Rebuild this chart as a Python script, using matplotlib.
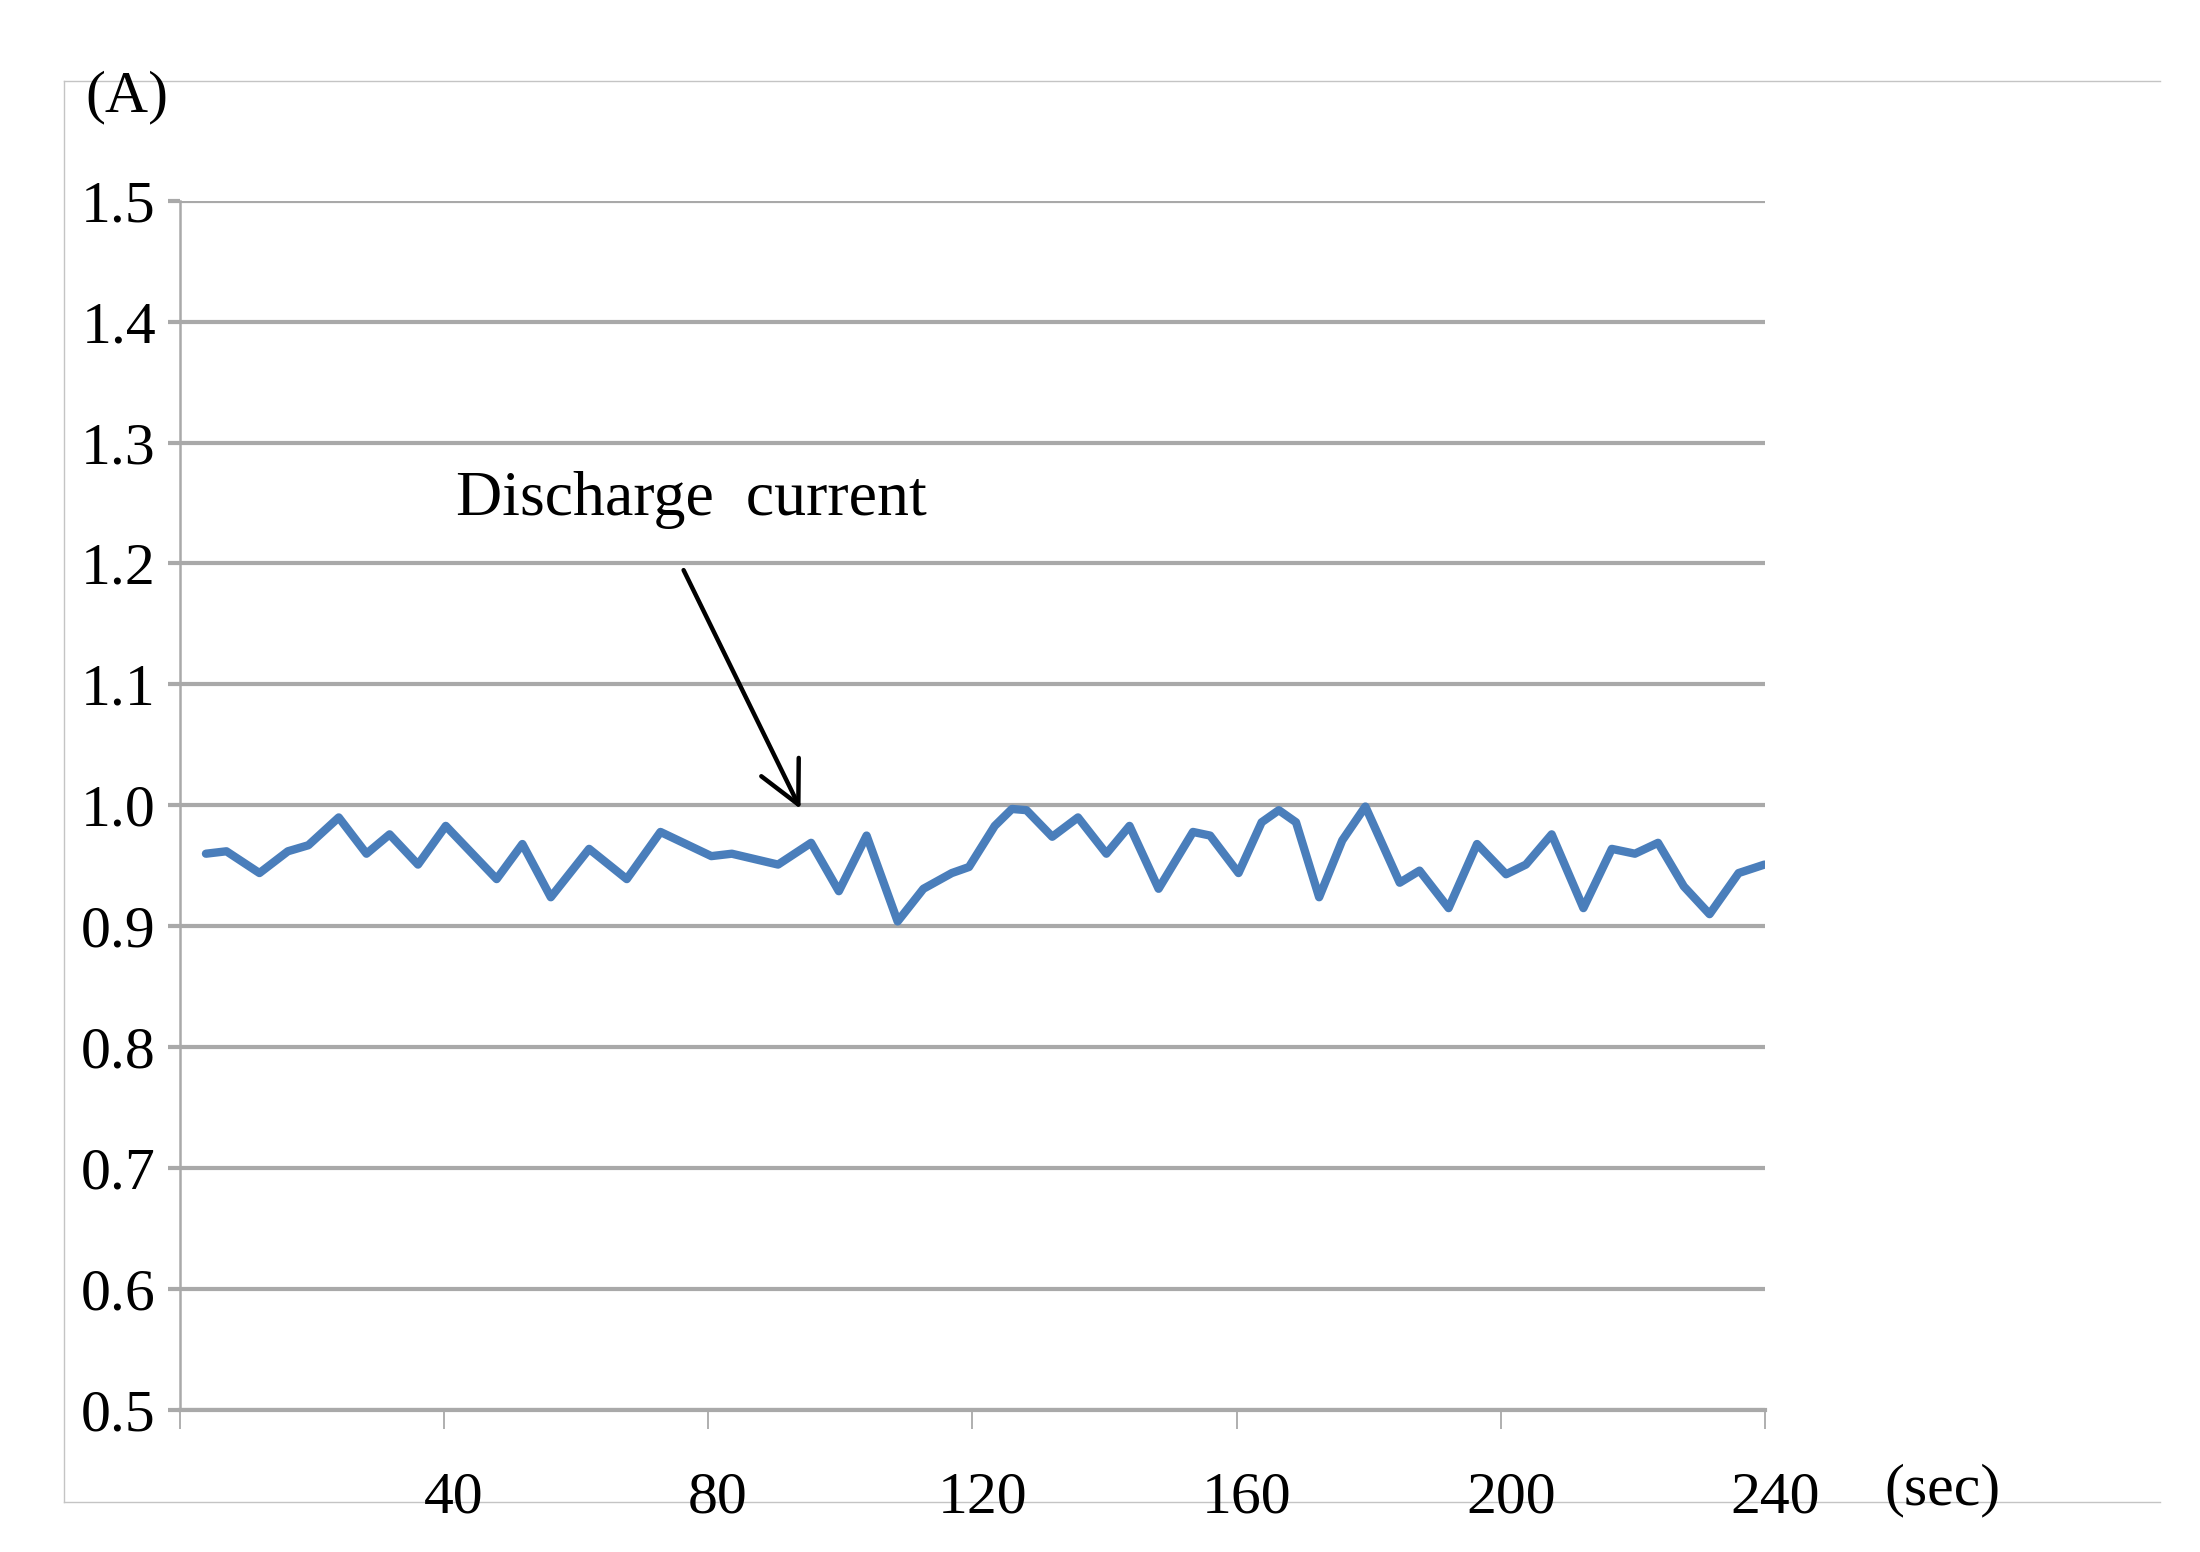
import matplotlib
matplotlib.use("Agg")
import matplotlib.pyplot as plt
import matplotlib.transforms as mtransforms

# discharge current (time in sec, current in A)
time_sec = [4.0, 7.1, 12.1, 16.4, 19.5, 24.1, 28.3, 31.8, 36.1, 40.3,
            48.0, 51.9, 56.2, 62.0, 67.7, 72.8, 80.5, 83.6, 90.6, 95.6,
            99.8, 104.0, 108.7, 112.6, 116.9, 119.5, 123.4, 126.0, 128.2, 132.1,
            136.0, 140.3, 143.8, 148.2, 153.4, 156.0, 160.3, 163.8, 166.4, 169.0,
            172.5, 176.0, 179.5, 184.7, 187.7, 192.1, 196.4, 200.8, 203.8, 207.7,
            212.5, 216.8, 220.3, 223.8, 227.7, 231.6, 236.0, 239.9]
current_a = [0.960, 0.962, 0.944, 0.962, 0.967, 0.990, 0.960, 0.976, 0.951, 0.983,
             0.939, 0.968, 0.924, 0.964, 0.939, 0.978, 0.958, 0.960, 0.951, 0.969,
             0.929, 0.975, 0.904, 0.931, 0.944, 0.949, 0.983, 0.997, 0.996, 0.974,
             0.990, 0.960, 0.983, 0.931, 0.978, 0.975, 0.944, 0.986, 0.996, 0.986,
             0.924, 0.971, 0.999, 0.936, 0.946, 0.915, 0.968, 0.943, 0.951, 0.976,
             0.915, 0.964, 0.960, 0.969, 0.933, 0.910, 0.944, 0.951]

x_ticks = [0, 40, 80, 120, 160, 200, 240]
x_labels = ["", "40", "80", "120", "160", "200", "240"]
y_ticks = [0.5, 0.6, 0.7, 0.8, 0.9, 1.0, 1.1, 1.2, 1.3, 1.4, 1.5]

plt.rcParams['font.family'] = ['Liberation Serif', 'DejaVu Serif']
grid_col = '#a9a9a9'

fig = plt.figure(figsize=(22, 15.52), dpi=100)

# outer chart frame (open on the right side)
frame = fig.add_axes([0.0293, 0.0324, 0.9527, 0.9156], zorder=0)
frame.set_xticks([])
frame.set_yticks([])
frame.patch.set_visible(False)
frame.spines['right'].set_visible(False)
for s in ['left', 'top', 'bottom']:
    frame.spines[s].set_color('#c4c4c4')
    frame.spines[s].set_linewidth(1.0)

ax = fig.add_axes([0.0816, 0.0915, 0.7207, 0.7792], zorder=1)
ax.patch.set_visible(False)

ax.plot(time_sec, current_a, color='#4a7ebb', lw=6, solid_joinstyle='round',
        solid_capstyle='round', zorder=3)

ax.set_xlim(0, 240)
ax.set_ylim(0.5, 1.5)
ax.set_yticks(y_ticks)
ax.set_yticklabels([f"{v:.1f}" for v in y_ticks])
ax.set_xticks(x_ticks)
ax.set_xticklabels(x_labels)

ax.grid(axis='y', color=grid_col, lw=3.0)
ax.set_axisbelow(True)
for s in ['top', 'right']:
    ax.spines[s].set_visible(False)
ax.spines['bottom'].set_color(grid_col)
ax.spines['bottom'].set_linewidth(3.0)
ax.spines['left'].set_color(grid_col)
ax.spines['left'].set_linewidth(1.8)

ax.tick_params(axis='y', direction='out', length=9, width=3.0, color=grid_col,
               labelsize=43, pad=8)
ax.tick_params(axis='x', direction='out', length=14, width=1.3, color=grid_col,
               labelsize=43, pad=30)

# tick labels sit a little to the right of their ticks in the original
shift = mtransforms.ScaledTranslation(0.10, 0, fig.dpi_scale_trans)
for lab in ax.get_xticklabels():
    lab.set_transform(lab.get_transform() + shift)

# annotation
ax.text(41.8, 1.240, "Discharge  current", fontsize=46, ha='left', va='baseline')
ax.annotate("", xy=(94.0, 0.997), xytext=(76.3, 1.1945),
            arrowprops=dict(arrowstyle='->,head_length=1.5,head_width=0.75',
                            mutation_scale=20, lw=3.2, color='black',
                            shrinkA=0, shrinkB=0))

# unit labels
fig.text(0.0577, 0.9375, "(A)", fontsize=43, ha='center', va='center')
fig.text(0.8827, 0.040, "(sec)", fontsize=43, ha='center', va='center')

fig.savefig("out.png", dpi=100)
